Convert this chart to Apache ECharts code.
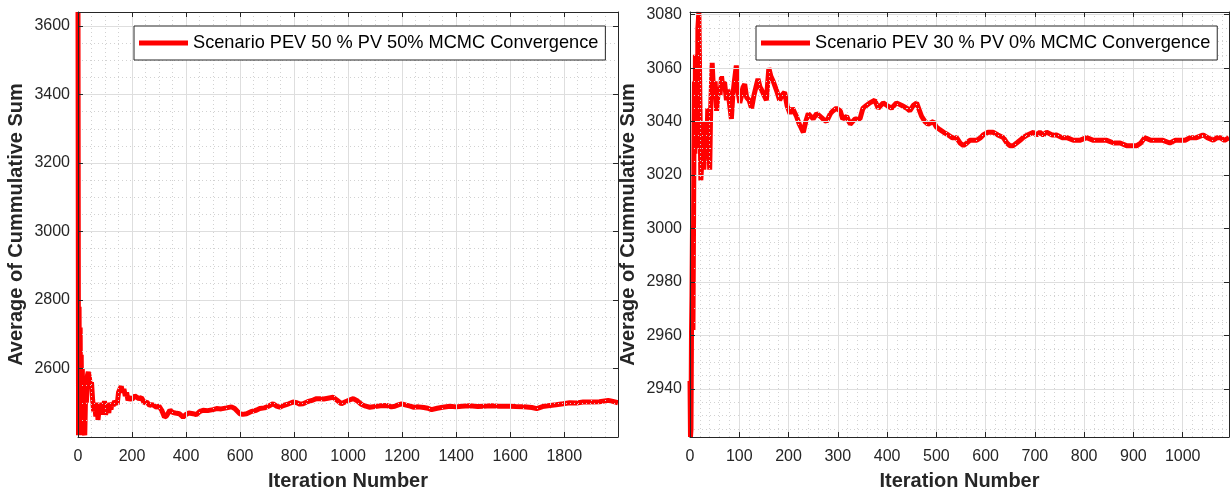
<!DOCTYPE html>
<html>
<head>
<meta charset="utf-8">
<title>MCMC Convergence</title>
<script src="https://cdn.jsdelivr.net/npm/echarts@6/dist/echarts.min.js"></script>
<style>
  html, body { margin: 0; padding: 0; background: #ffffff; }
  #chart { width: 1230px; height: 496px; }
</style>
</head>
<body>
<div id="chart"></div>
<script>
// Scenario PEV 50 % / PV 50%: running average of the cumulative sum per iteration
const leftIter = [
  0, 2, 4, 6, 8, 10, 12, 14, 16, 18,
  20, 22, 25, 28, 31, 35, 38, 42, 46, 50,
  54, 58, 62, 66, 70, 74, 78, 82, 86, 90,
  94, 98, 102, 106, 110, 114, 118, 122, 126, 130,
  135, 140, 145, 150, 155, 160, 165, 170, 175, 180,
  185, 190, 200, 210, 216, 225, 235, 245, 255, 265,
  275, 290, 300, 310, 320, 328, 340, 350, 360, 375,
  389, 400, 410, 426, 438, 450, 463, 480, 500, 513,
  530, 550, 568, 580, 590, 599, 610, 624, 640, 660,
  673, 690, 705, 722, 735, 747, 760, 780, 796, 810,
  821, 833, 850, 870, 883, 895, 910, 930, 944, 958,
  975, 990, 1005, 1019, 1035, 1050, 1065, 1080, 1100, 1120,
  1142, 1160, 1173, 1186, 1198, 1215, 1230, 1241, 1260, 1280,
  1295, 1309, 1330, 1350, 1377, 1400, 1420, 1450, 1480, 1500,
  1530, 1560, 1599, 1620, 1650, 1680, 1698, 1720, 1740, 1770,
  1796, 1820, 1845, 1870, 1900, 1930, 1963, 1980, 1999
];
const leftAvg = [
  3641, 2405, 2780, 2410, 2720, 2405, 2640, 2410, 2600, 2430,
  2560, 2420, 2405, 2520, 2500, 2580, 2590, 2575, 2545, 2560,
  2510, 2475, 2490, 2460, 2500, 2450, 2480, 2495, 2465, 2500,
  2480, 2505, 2465, 2470, 2490, 2470, 2500, 2480, 2500, 2490,
  2505, 2510, 2495, 2530, 2540, 2548, 2530, 2540, 2520, 2530,
  2507, 2515, 2510, 2520, 2525, 2512, 2515, 2500, 2502, 2492,
  2495, 2487, 2490, 2478, 2458, 2462, 2478, 2472, 2470, 2468,
  2458, 2466, 2470, 2468, 2465, 2474, 2478, 2477, 2480, 2483,
  2482, 2485, 2488, 2483, 2475, 2468, 2466, 2468, 2474, 2478,
  2483, 2485, 2490, 2497, 2490, 2487, 2492, 2497, 2502, 2500,
  2496, 2497, 2503, 2508, 2512, 2512, 2511, 2514, 2516, 2508,
  2497, 2503, 2508, 2512, 2505, 2495, 2490, 2487, 2489, 2491,
  2492, 2488, 2490, 2494, 2497, 2493, 2490, 2487, 2488, 2486,
  2484, 2480, 2484, 2487, 2490, 2488, 2490, 2491, 2489, 2490,
  2491, 2490, 2490, 2489, 2488, 2486, 2483, 2489, 2491, 2494,
  2497, 2500, 2499, 2502, 2502, 2503, 2507, 2504, 2500
];

// Scenario PEV 30 % / PV 0%
const rightIter = [
  0, 1, 2, 3, 4, 5, 6, 7, 8, 9,
  10, 11, 12, 14, 15, 16, 18, 20, 22, 24,
  26, 28, 30, 32, 34, 36, 38, 40, 42, 45,
  48, 51, 54, 58, 61, 64, 67, 70, 74, 77,
  80, 84, 87, 90, 94, 97, 101, 105, 108, 111,
  115, 120, 125, 130, 134, 138, 142, 145, 150, 155,
  160, 164, 169, 175, 182, 187, 192, 197, 203, 208,
  216, 222, 230, 235, 240, 250, 257, 264, 270, 277,
  285, 290, 297, 305, 310, 318, 325, 335, 345, 351,
  358, 365, 375, 382, 392, 400, 409, 419, 430, 440,
  446, 453, 460, 470, 477, 483, 494, 500, 507, 515,
  524, 532, 541, 548, 555, 562, 568, 575, 582, 590,
  595, 605, 615, 625, 636, 643, 649, 656, 663, 670,
  676, 685, 697, 703, 710, 717, 724, 735, 744, 755,
  765, 778, 791, 805, 819, 833, 846, 860, 873, 886,
  897, 907, 915, 923, 935, 947, 960, 974, 985, 995,
  1005, 1015, 1028, 1042, 1050, 1062, 1070, 1076, 1085, 1094
];
const rightAvg = [
  2943, 2922, 2925, 2960, 2975, 3000, 2962, 2995, 3030, 3055,
  3028, 3065, 3040, 3062, 3030, 3075, 3081, 3050, 3018, 3025,
  3040, 3022, 3030, 3040, 3028, 3045, 3032, 3022, 3045, 3062,
  3050, 3055, 3044, 3053, 3050, 3057, 3052, 3055, 3048, 3052,
  3047, 3041, 3050, 3055, 3061, 3052, 3047, 3050, 3053, 3054,
  3049, 3048, 3045, 3050, 3053, 3056, 3053, 3052, 3050, 3048,
  3060, 3057, 3055, 3052, 3048, 3050, 3051, 3046, 3043, 3045,
  3042, 3039, 3036, 3040, 3043, 3041, 3043, 3042, 3041, 3040,
  3043, 3044, 3045, 3044, 3041, 3042, 3039, 3041, 3041, 3045,
  3046, 3047, 3048, 3045, 3047, 3046, 3045, 3047, 3046, 3045,
  3044, 3046, 3047, 3042, 3040, 3039, 3040, 3038, 3037, 3036,
  3035, 3034, 3034, 3032, 3031, 3032, 3033, 3033, 3033, 3034,
  3035, 3036, 3036, 3035, 3034, 3032, 3031, 3031, 3032, 3033,
  3034, 3035, 3036, 3035, 3036, 3035, 3036, 3035, 3035, 3034,
  3034, 3033, 3033, 3034, 3033, 3033, 3033, 3032, 3032, 3031,
  3031, 3031, 3032, 3034, 3033, 3033, 3033, 3032, 3033, 3033,
  3033, 3034, 3034, 3035, 3034, 3033, 3034, 3034, 3033, 3034
];

// Labelled tick values
const leftXTicks = [0, 200, 400, 600, 800, 1000, 1200, 1400, 1600, 1800];
const leftYTicks = [2600, 2800, 3000, 3200, 3400, 3600];
const rightXTicks = [0, 100, 200, 300, 400, 500, 600, 700, 800, 900, 1000];
const rightYTicks = [2940, 2960, 2980, 3000, 3020, 3040, 3060, 3080];

const leftName = 'Scenario PEV 50 % PV 50% MCMC Convergence';
const rightName = 'Scenario PEV 30 % PV 0% MCMC Convergence';
const xTitle = 'Iteration Number';
const yTitle = 'Average of Cummulative Sum';

const INK = '#262626';
const FONT = '"Liberation Sans", Arial, Helvetica, sans-serif';
const GRID_MAJOR = '#dedede';
const GRID_MINOR = '#d2d2d2';

function pairs(xs, ys) {
  return xs.map((x, i) => [x, ys[i]]);
}

function axisBase(gridIndex, range, ticks, minorSplit) {
  return {
    type: 'value',
    gridIndex: gridIndex,
    min: range.min,
    max: range.max,
    interval: range.interval,
    minInterval: range.minInterval,
    maxInterval: range.maxInterval,
    splitNumber: range.splitNumber,
    axisLine: { show: true, onZero: false, lineStyle: { color: INK, width: 1 } },
    axisTick: { show: true, inside: true, length: 5, customValues: ticks, lineStyle: { color: INK, width: 1 } },
    minorTick: { show: false, splitNumber: minorSplit }
  };
}

function mainAxis(gridIndex, position, range, ticks, minorSplit, name, nameGap, labelMargin) {
  return Object.assign(axisBase(gridIndex, range, ticks, minorSplit), {
    position: position,
    name: name,
    nameLocation: 'middle',
    nameGap: nameGap,
    nameTextStyle: { color: INK, fontFamily: FONT, fontSize: 20, fontWeight: 'bold' },
    axisLabel: {
      show: true,
      customValues: ticks,
      margin: labelMargin,
      color: INK,
      fontFamily: FONT,
      fontSize: 16,
      formatter: (v) => String(v)
    },
    splitLine: { show: true, lineStyle: { color: GRID_MAJOR, width: 1 } },
    minorSplitLine: { show: true, lineStyle: { color: GRID_MINOR, width: 1, type: [1, 3] } },
    z: 3
  });
}

function mirrorAxis(gridIndex, position, range, ticks, minorSplit) {
  return Object.assign(axisBase(gridIndex, range, ticks, minorSplit), {
    position: position,
    axisLabel: { show: false },
    splitLine: { show: false },
    z: 3
  });
}

const leftX = { min: 0, max: 1999, interval: 200 };
const leftY = { min: 2400, max: 3641, interval: 200 };
const rightX = { min: 0, max: 1094, interval: 100 };
const rightY = { min: 2922, max: 3081, minInterval: 20, maxInterval: 20, splitNumber: 8 };

const legendBox = {
  orient: 'horizontal',
  top: 26,
  backgroundColor: '#ffffff',
  borderColor: INK,
  borderWidth: 1,
  borderRadius: 0,
  padding: [8, 7, 8, 5],
  itemWidth: 49,
  itemHeight: 5,
  icon: 'rect',
  selectedMode: false,
  textStyle: { color: '#000000', fontFamily: FONT, fontSize: 18.2 }
};

const option = {
  backgroundColor: '#ffffff',
  animation: false,
  grid: [
    { left: 78, top: 12, width: 540, height: 426, show: false },
    { left: 690, top: 12, width: 539, height: 426, show: false }
  ],
  legend: [
    Object.assign({}, legendBox, { data: [leftName], left: 134 }),
    Object.assign({}, legendBox, { data: [rightName], left: 756 })
  ],
  xAxis: [
    mainAxis(0, 'bottom', leftX, leftXTicks, 4, xTitle, 34, 12),
    mirrorAxis(0, 'top', leftX, leftXTicks, 4),
    mainAxis(1, 'bottom', rightX, rightXTicks, 5, xTitle, 34, 12),
    mirrorAxis(1, 'top', rightX, rightXTicks, 5)
  ],
  yAxis: [
    mainAxis(0, 'left', leftY, leftYTicks, 4, yTitle, 52, 8),
    mirrorAxis(0, 'right', leftY, leftYTicks, 4),
    mainAxis(1, 'left', rightY, rightYTicks, 4, yTitle, 52, 8),
    mirrorAxis(1, 'right', rightY, rightYTicks, 4)
  ],
  series: [
    {
      name: leftName,
      type: 'line',
      xAxisIndex: 0,
      yAxisIndex: 0,
      data: pairs(leftIter, leftAvg),
      symbol: 'none',
      lineStyle: { color: '#ff0000', width: 5 },
      itemStyle: { color: '#ff0000' },
      clip: true,
      z: 2
    },
    {
      name: rightName,
      type: 'line',
      xAxisIndex: 2,
      yAxisIndex: 2,
      data: pairs(rightIter, rightAvg),
      symbol: 'none',
      lineStyle: { color: '#ff0000', width: 5 },
      itemStyle: { color: '#ff0000' },
      clip: true,
      z: 2
    }
  ]
};

const chart = echarts.init(document.getElementById('chart'), null, { renderer: 'canvas' });
chart.setOption(option);
</script>
</body>
</html>
